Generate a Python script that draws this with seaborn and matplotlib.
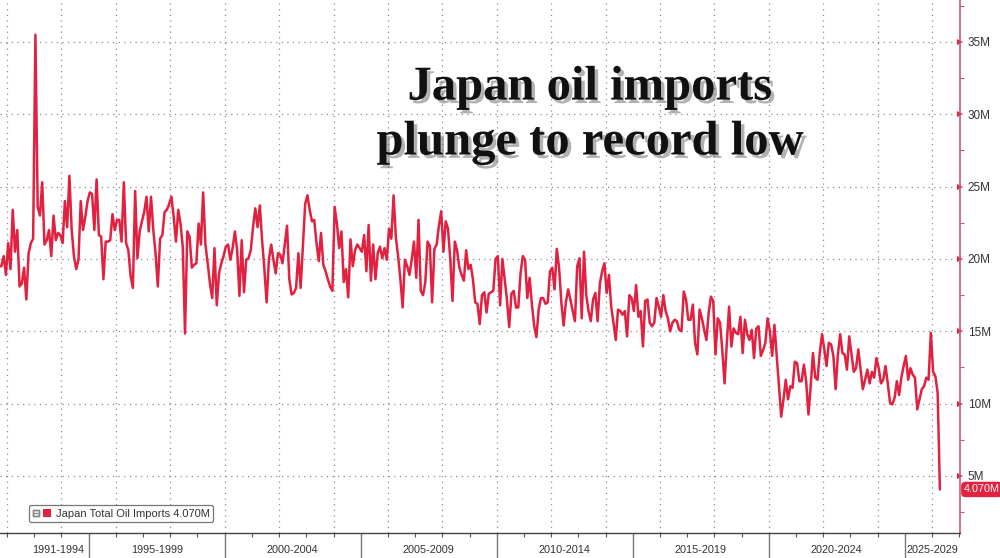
import numpy as np
import pandas as pd
import matplotlib
matplotlib.use('Agg')
import matplotlib.pyplot as plt
import matplotlib.patheffects as pe
from matplotlib.patches import Patch
from matplotlib.lines import Line2D
from matplotlib.legend_handler import HandlerTuple
from matplotlib.ticker import MultipleLocator, FuncFormatter
import seaborn as sns

# Japan total oil imports, monthly, millions (first month Sep 1991)
START = '1991-09-01'
imports_1991_1994 = [
    19.5, 19.5, 20.2, 18.9,
    21.1, 19.3, 23.4, 20.5, 22.0, 18.1, 18.3, 19.4, 17.2, 20.4, 21.1, 21.4,
    35.5, 23.6, 23.0, 25.3, 21.0, 21.3, 22.0, 20.2, 23.0, 21.3, 21.8, 21.65,
    21.1, 24.0, 22.2, 25.75, 22.0, 20.2, 19.3, 19.95, 24.0, 22.0, 22.9, 24.0,
]
imports_1995_1999 = [
    24.6, 24.5, 22.0, 25.5, 21.65, 21.55, 18.6, 21.2, 21.2, 21.3, 23.1, 22.0,
    22.7, 22.7, 21.2, 25.3, 21.1, 20.6, 18.8, 18.0, 24.7, 20.05, 21.9, 22.6,
    23.25, 24.3, 21.9, 24.3, 22.0, 20.4, 18.1, 21.4, 21.65, 23.25, 23.4, 23.8,
    24.3, 22.9, 21.2, 23.4, 22.45, 20.85, 14.85, 21.9, 21.55, 19.4, 19.6, 19.7,
    22.45, 21.0, 24.6, 21.0, 19.7, 18.3, 17.3, 20.75, 16.8, 19.0, 19.7, 20.2,
]
imports_2000_2004 = [
    20.85, 21.0, 19.95, 20.75, 21.9, 20.6, 17.45, 21.3, 17.7, 19.95, 20.05, 20.6,
    22.2, 23.5, 22.2, 23.7, 21.3, 19.3, 17.0, 19.95, 21.0, 19.95, 19.0, 20.4,
    20.3, 19.7, 21.0, 22.3, 18.6, 17.55, 17.65, 18.0, 20.4, 18.0, 20.85, 23.8,
    24.4, 23.4, 22.6, 22.7, 21.1, 19.85, 21.8, 19.6, 19.15, 18.6, 18.1, 17.8,
    23.6, 22.45, 20.75, 21.9, 18.4, 19.3, 17.35, 21.35, 19.5, 20.6, 21.0, 20.75,
]
imports_2005_2009 = [
    20.5, 21.65, 19.15, 22.35, 18.5, 21.0, 18.6, 20.4, 20.85, 20.05, 20.75, 19.95,
    22.1, 21.4, 24.4, 21.5, 20.2, 18.6, 16.65, 19.95, 19.5, 18.9, 19.95, 21.2,
    18.7, 22.7, 17.8, 17.5, 18.4, 21.2, 20.9, 17.0, 20.7, 21.0, 22.3, 23.3,
    20.5, 22.6, 22.1, 20.0, 17.1, 21.2, 20.6, 19.4, 18.9, 18.5, 20.6, 19.3,
    19.6, 18.6, 17.0, 16.9, 15.5, 17.5, 17.7, 16.3, 17.6, 17.7, 17.8, 20.0,
]
imports_2010_2014 = [
    20.2, 16.8, 20.0, 18.6, 17.2, 15.3, 17.6, 17.8, 16.65, 16.65, 19.0, 20.2,
    19.95, 17.3, 18.7, 16.9, 15.4, 14.6, 16.5, 17.3, 17.3, 16.9, 17.0, 19.15,
    19.4, 17.9, 20.7, 19.4, 17.0, 15.4, 17.0, 17.9, 17.2, 16.4, 15.7, 19.5,
    20.05, 15.9, 20.5, 17.5, 16.4, 15.7, 17.2, 17.65, 15.7, 18.3, 19.15, 19.7,
    17.65, 18.9, 16.7, 15.6, 14.4, 16.5, 16.4, 16.15, 16.4, 14.65, 17.5, 17.3,
]
imports_2015_2019 = [
    16.4, 18.2, 16.0, 16.4, 13.95, 17.1, 17.2, 15.6, 15.35, 15.6, 17.3, 16.7,
    16.0, 17.5, 16.4, 15.9, 15.0, 15.6, 15.8, 15.7, 15.1, 15.0, 17.75, 17.2,
    15.8, 15.8, 16.85, 14.2, 13.4, 16.5, 15.9, 15.1, 14.4, 16.3, 17.4, 17.1,
    13.4, 15.9, 15.6, 13.7, 11.4, 14.2, 16.7, 13.95, 15.2, 14.9, 14.8, 16.0,
    13.5, 15.8, 14.8, 14.4, 15.1, 13.15, 15.2, 15.35, 13.3, 13.7, 14.2, 15.9,
]
imports_2020_2024 = [
    15.0, 13.3, 15.45, 13.3, 11.2, 9.1, 10.3, 11.65, 10.3, 11.2, 11.1, 12.9,
    12.8, 11.55, 11.55, 12.7, 11.55, 9.25, 11.2, 13.5, 11.8, 11.65, 13.5, 14.8,
    13.75, 12.6, 14.2, 14.1, 13.3, 11.0, 13.4, 14.8, 13.5, 13.4, 12.35, 14.65,
    13.4, 12.2, 12.45, 13.75, 12.35, 11.0, 11.65, 12.35, 11.4, 12.2, 11.8, 13.15,
    12.45, 11.4, 11.65, 12.6, 11.4, 10.05, 9.95, 10.4, 11.55, 10.6, 11.8, 12.6,
]
imports_2025_2029 = [
    13.3, 11.65, 12.45, 12.0, 11.8, 9.6, 10.3, 11.0, 11.2, 11.8, 11.65, 14.9,
    12.2, 11.9, 10.75, 4.07,
]

period_labels = ['1991-1994', '1995-1999', '2000-2004', '2005-2009',
                 '2010-2014', '2015-2019', '2020-2024', '2025-2029']
period_starts = [1991, 1995, 2000, 2005, 2010, 2015, 2020, 2025]

values = (imports_1991_1994 + imports_1995_1999 + imports_2000_2004 + imports_2005_2009
          + imports_2010_2014 + imports_2015_2019 + imports_2020_2024 + imports_2025_2029)
dates = pd.date_range(START, periods=len(values), freq='MS')
df = pd.DataFrame({'date': dates, 'imports': values})
df['year'] = df['date'].dt.year + (df['date'].dt.month - 0.5) / 12
last = df['imports'].iloc[-1]

RED = '#e2203f'
XMIN, XMAX = 1991.74, 2027.03

sns.set_style('white')
plt.rcParams['font.family'] = ['Liberation Sans', 'DejaVu Sans']

fig = plt.figure(figsize=(10, 5.58), dpi=100)
ax = fig.add_axes([0, 25 / 558, 0.96, 533 / 558])
sns.lineplot(data=df, x='year', y='imports', color=RED, linewidth=1.8, ax=ax, legend=False)

ax.set_xlim(XMIN, XMAX)
ax.set_ylim(1.06, 37.9)
ax.set_xlabel('')
ax.set_ylabel('')

# spines
ax.spines['left'].set_visible(False)
ax.spines['top'].set_visible(False)
ax.spines['right'].set_color('#c9587a')
ax.spines['right'].set_linewidth(1.2)
ax.spines['bottom'].set_color('#444444')
ax.spines['bottom'].set_linewidth(1.0)

# y axis on the right
ax.yaxis.tick_right()
ax.yaxis.set_major_locator(MultipleLocator(5))
ax.yaxis.set_minor_locator(MultipleLocator(2.5))
ax.yaxis.set_major_formatter(FuncFormatter(lambda v, p: f'{v:g}M'))
ax.tick_params(axis='y', which='major', length=4, width=0, pad=1.5,
               labelsize=8.5, colors=RED)
ax.tick_params(axis='y', which='minor', length=3, width=0.8, color='#c9587a')
ax.tick_params(axis='y', labelcolor='#333333')
for t in ax.yaxis.get_major_ticks():
    t.tick2line.set_marker('>')
    t.tick2line.set_markersize(4.5)
    t.tick2line.set_color(RED)
    t.tick2line.set_markeredgewidth(0)

# x axis: yearly ticks, grid every two years
ax.xaxis.set_major_locator(MultipleLocator(2))
ax.xaxis.set_minor_locator(MultipleLocator(1))
ax.tick_params(axis='x', which='both', length=3, width=0.8, color='#555555',
               labelbottom=False, bottom=True)

grid_kw = dict(color='#8c8c8c', linestyle=(0, (1, 3.5)), linewidth=0.9)
ax.grid(axis='y', which='major', **grid_kw)
ax.grid(axis='x', which='major', **grid_kw)

# period separators and labels below the axis
xt = ax.get_xaxis_transform()
ax.vlines(period_starts[1:], -25 / 533, 0, transform=xt, colors='#7a7a7a',
          linewidth=1.0, clip_on=False)
for start, label in zip(period_starts, period_labels):
    lo, hi = max(start, XMIN), min(start + 5, XMAX)
    ax.text((lo + hi) / 2, -0.031, label, transform=xt, ha='center', va='center',
            fontsize=7.8, color='#333333')

# legend
icon = Line2D([], [], marker=r'$\boxminus$', color='#8a8a8a', linestyle='none', markersize=5)
square = Patch(facecolor=RED, edgecolor='none')
leg = ax.legend(handles=[(icon, square)], labels=[f'Japan Total Oil Imports {last:.3f}M'],
                handler_map={tuple: HandlerTuple(ndivide=None, pad=0.2)},
                loc='lower left', bbox_to_anchor=(0.0302, 0.0206), borderaxespad=0,
                fontsize=8, handlelength=1.7, handleheight=0.8, handletextpad=0.4,
                borderpad=0.3, frameon=True, fancybox=True)
leg.get_frame().set_edgecolor('#555555')
leg.get_frame().set_linewidth(0.9)
for txt in leg.get_texts():
    txt.set_color('#333333')

# last value badge
ax.text(1.004, last, f'{last:.3f}M', transform=ax.get_yaxis_transform(),
        ha='left', va='center', color='white', fontsize=7.8,
        bbox=dict(boxstyle='round,pad=0.25,rounding_size=0.4', fc=RED, ec='none'))

# title
fig.text(0.59, 1 - 115 / 558, 'Japan oil imports\nplunge to record low',
         ha='center', va='center', fontsize=35, fontweight='bold',
         family='Liberation Serif', linespacing=1.32, color='#111111',
         path_effects=[pe.withSimplePatchShadow(offset=(2.5, -2.5),
                                                shadow_rgbFace='#555555', alpha=0.45)])

fig.savefig('out.png', dpi=100, facecolor='white')
